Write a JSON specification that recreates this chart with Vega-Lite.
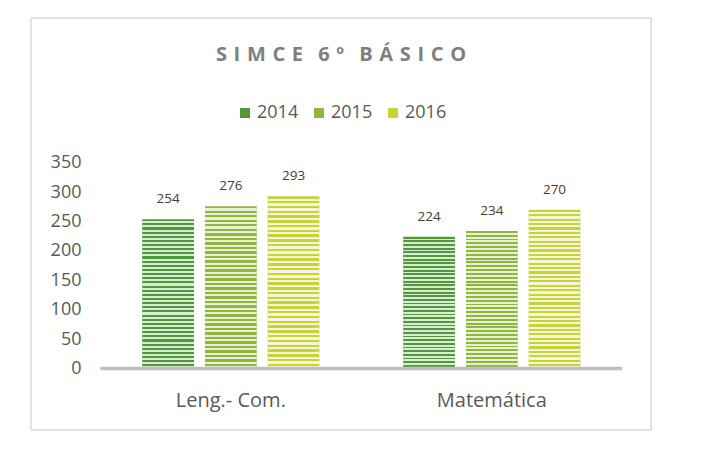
{
  "$schema": "https://vega.github.io/schema/vega-lite/v6.json",
  "width": 620,
  "height": 412,
  "autosize": {"type": "none"},
  "padding": {"left": 31, "top": 18, "right": 61, "bottom": 36},
  "background": "white",
  "config": {
    "view": {"stroke": "#d9d9d9", "strokeWidth": 1.5, "fill": "white"},
    "font": "Open Sans"
  },
  "title": {
    "text": "S\u2004I\u2004M\u2004C\u2004E\u2002 6\u2004º\u2002 B\u2004Á\u2004S\u2004I\u2004C\u2004O",
    "fontSize": 20,
    "fontWeight": "bold",
    "color": "#7f7f7f",
    "anchor": "middle",
    "frame": "group",
    "offset": -47
  },
  "data": {
    "values": [
      {"area": "Leng.- Com.", "year": "2014", "value": 254},
      {"area": "Leng.- Com.", "year": "2015", "value": 276},
      {"area": "Leng.- Com.", "year": "2016", "value": 293},
      {"area": "Matemática", "year": "2014", "value": 224},
      {"area": "Matemática", "year": "2015", "value": 234},
      {"area": "Matemática", "year": "2016", "value": 270}
    ]
  },
  "layer": [
    {
      "mark": {"type": "bar"},
      "encoding": {
        "x": {
          "field": "area",
          "type": "nominal",
          "sort": null,
          "scale": {"paddingInner": 0, "paddingOuter": 0.188, "align": 0.707},
          "axis": {
            "title": null,
            "ticks": false,
            "domain": false,
            "labelAngle": 0,
            "labelFontSize": 20,
            "labelColor": "#595959",
            "labelPadding": 2,
            "offset": -42
          }
        },
        "xOffset": {
          "field": "year",
          "type": "nominal",
          "scale": {"paddingInner": 0.175, "paddingOuter": 0.668}
        },
        "y": {
          "field": "value",
          "type": "quantitative",
          "scale": {"domain": [-104.6, 596.1], "nice": false, "zero": false},
          "axis": {
            "title": null,
            "values": [0, 50, 100, 150, 200, 250, 300, 350],
            "ticks": false,
            "domain": false,
            "grid": false,
            "labelPadding": 2,
            "offset": -52,
            "labelFontSize": 18,
            "labelColor": "#595959"
          }
        },
        "y2": {"datum": 0},
        "color": {
          "field": "year",
          "type": "nominal",
          "scale": {"range": ["#4f9a37", "#8fb73b", "#c6d33a"]},
          "legend": {
            "orient": "none",
            "legendX": 205,
            "legendY": 86,
            "direction": "horizontal",
            "title": null,
            "symbolType": "square",
            "symbolSize": 100,
            "symbolStrokeWidth": 0,
            "labelFontSize": 18,
            "labelColor": "#595959",
            "columnPadding": 11,
            "labelOffset": 3,
            "padding": 0
          }
        }
      }
    },
    {
      "mark": {
        "type": "bar",
        "fill": {
          "gradient": "linear",
          "x1": 0, "y1": 0, "x2": 0, "y2": 1,
          "stops": [
            {"offset": 0, "color": "rgba(255,255,255,0)"},{"offset": 0.0139, "color": "rgba(255,255,255,0)"},{"offset": 0.0139, "color": "rgba(255,255,255,0.8)"},{"offset": 0.0278, "color": "rgba(255,255,255,0.8)"},
            {"offset": 0.0278, "color": "rgba(255,255,255,0)"},{"offset": 0.0417, "color": "rgba(255,255,255,0)"},{"offset": 0.0417, "color": "rgba(255,255,255,0.8)"},{"offset": 0.0556, "color": "rgba(255,255,255,0.8)"},
            {"offset": 0.0556, "color": "rgba(255,255,255,0)"},{"offset": 0.0694, "color": "rgba(255,255,255,0)"},{"offset": 0.0694, "color": "rgba(255,255,255,0.8)"},{"offset": 0.0833, "color": "rgba(255,255,255,0.8)"},
            {"offset": 0.0833, "color": "rgba(255,255,255,0)"},{"offset": 0.0972, "color": "rgba(255,255,255,0)"},{"offset": 0.0972, "color": "rgba(255,255,255,0.8)"},{"offset": 0.1111, "color": "rgba(255,255,255,0.8)"},
            {"offset": 0.1111, "color": "rgba(255,255,255,0)"},{"offset": 0.125, "color": "rgba(255,255,255,0)"},{"offset": 0.125, "color": "rgba(255,255,255,0.8)"},{"offset": 0.1389, "color": "rgba(255,255,255,0.8)"},
            {"offset": 0.1389, "color": "rgba(255,255,255,0)"},{"offset": 0.1528, "color": "rgba(255,255,255,0)"},{"offset": 0.1528, "color": "rgba(255,255,255,0.8)"},{"offset": 0.1667, "color": "rgba(255,255,255,0.8)"},
            {"offset": 0.1667, "color": "rgba(255,255,255,0)"},{"offset": 0.1806, "color": "rgba(255,255,255,0)"},{"offset": 0.1806, "color": "rgba(255,255,255,0.8)"},{"offset": 0.1944, "color": "rgba(255,255,255,0.8)"},
            {"offset": 0.1944, "color": "rgba(255,255,255,0)"},{"offset": 0.2083, "color": "rgba(255,255,255,0)"},{"offset": 0.2083, "color": "rgba(255,255,255,0.8)"},{"offset": 0.2222, "color": "rgba(255,255,255,0.8)"},
            {"offset": 0.2222, "color": "rgba(255,255,255,0)"},{"offset": 0.2361, "color": "rgba(255,255,255,0)"},{"offset": 0.2361, "color": "rgba(255,255,255,0.8)"},{"offset": 0.25, "color": "rgba(255,255,255,0.8)"},
            {"offset": 0.25, "color": "rgba(255,255,255,0)"},{"offset": 0.2639, "color": "rgba(255,255,255,0)"},{"offset": 0.2639, "color": "rgba(255,255,255,0.8)"},{"offset": 0.2778, "color": "rgba(255,255,255,0.8)"},
            {"offset": 0.2778, "color": "rgba(255,255,255,0)"},{"offset": 0.2917, "color": "rgba(255,255,255,0)"},{"offset": 0.2917, "color": "rgba(255,255,255,0.8)"},{"offset": 0.3056, "color": "rgba(255,255,255,0.8)"},
            {"offset": 0.3056, "color": "rgba(255,255,255,0)"},{"offset": 0.3194, "color": "rgba(255,255,255,0)"},{"offset": 0.3194, "color": "rgba(255,255,255,0.8)"},{"offset": 0.3333, "color": "rgba(255,255,255,0.8)"},
            {"offset": 0.3333, "color": "rgba(255,255,255,0)"},{"offset": 0.3472, "color": "rgba(255,255,255,0)"},{"offset": 0.3472, "color": "rgba(255,255,255,0.8)"},{"offset": 0.3611, "color": "rgba(255,255,255,0.8)"},
            {"offset": 0.3611, "color": "rgba(255,255,255,0)"},{"offset": 0.375, "color": "rgba(255,255,255,0)"},{"offset": 0.375, "color": "rgba(255,255,255,0.8)"},{"offset": 0.3889, "color": "rgba(255,255,255,0.8)"},
            {"offset": 0.3889, "color": "rgba(255,255,255,0)"},{"offset": 0.4028, "color": "rgba(255,255,255,0)"},{"offset": 0.4028, "color": "rgba(255,255,255,0.8)"},{"offset": 0.4167, "color": "rgba(255,255,255,0.8)"},
            {"offset": 0.4167, "color": "rgba(255,255,255,0)"},{"offset": 0.4306, "color": "rgba(255,255,255,0)"},{"offset": 0.4306, "color": "rgba(255,255,255,0.8)"},{"offset": 0.4444, "color": "rgba(255,255,255,0.8)"},
            {"offset": 0.4444, "color": "rgba(255,255,255,0)"},{"offset": 0.4583, "color": "rgba(255,255,255,0)"},{"offset": 0.4583, "color": "rgba(255,255,255,0.8)"},{"offset": 0.4722, "color": "rgba(255,255,255,0.8)"},
            {"offset": 0.4722, "color": "rgba(255,255,255,0)"},{"offset": 0.4861, "color": "rgba(255,255,255,0)"},{"offset": 0.4861, "color": "rgba(255,255,255,0.8)"},{"offset": 0.5, "color": "rgba(255,255,255,0.8)"},
            {"offset": 0.5, "color": "rgba(255,255,255,0)"},{"offset": 0.5139, "color": "rgba(255,255,255,0)"},{"offset": 0.5139, "color": "rgba(255,255,255,0.8)"},{"offset": 0.5278, "color": "rgba(255,255,255,0.8)"},
            {"offset": 0.5278, "color": "rgba(255,255,255,0)"},{"offset": 0.5417, "color": "rgba(255,255,255,0)"},{"offset": 0.5417, "color": "rgba(255,255,255,0.8)"},{"offset": 0.5556, "color": "rgba(255,255,255,0.8)"},
            {"offset": 0.5556, "color": "rgba(255,255,255,0)"},{"offset": 0.5694, "color": "rgba(255,255,255,0)"},{"offset": 0.5694, "color": "rgba(255,255,255,0.8)"},{"offset": 0.5833, "color": "rgba(255,255,255,0.8)"},
            {"offset": 0.5833, "color": "rgba(255,255,255,0)"},{"offset": 0.5972, "color": "rgba(255,255,255,0)"},{"offset": 0.5972, "color": "rgba(255,255,255,0.8)"},{"offset": 0.6111, "color": "rgba(255,255,255,0.8)"},
            {"offset": 0.6111, "color": "rgba(255,255,255,0)"},{"offset": 0.625, "color": "rgba(255,255,255,0)"},{"offset": 0.625, "color": "rgba(255,255,255,0.8)"},{"offset": 0.6389, "color": "rgba(255,255,255,0.8)"},
            {"offset": 0.6389, "color": "rgba(255,255,255,0)"},{"offset": 0.6528, "color": "rgba(255,255,255,0)"},{"offset": 0.6528, "color": "rgba(255,255,255,0.8)"},{"offset": 0.6667, "color": "rgba(255,255,255,0.8)"},
            {"offset": 0.6667, "color": "rgba(255,255,255,0)"},{"offset": 0.6806, "color": "rgba(255,255,255,0)"},{"offset": 0.6806, "color": "rgba(255,255,255,0.8)"},{"offset": 0.6944, "color": "rgba(255,255,255,0.8)"},
            {"offset": 0.6944, "color": "rgba(255,255,255,0)"},{"offset": 0.7083, "color": "rgba(255,255,255,0)"},{"offset": 0.7083, "color": "rgba(255,255,255,0.8)"},{"offset": 0.7222, "color": "rgba(255,255,255,0.8)"},
            {"offset": 0.7222, "color": "rgba(255,255,255,0)"},{"offset": 0.7361, "color": "rgba(255,255,255,0)"},{"offset": 0.7361, "color": "rgba(255,255,255,0.8)"},{"offset": 0.75, "color": "rgba(255,255,255,0.8)"},
            {"offset": 0.75, "color": "rgba(255,255,255,0)"},{"offset": 0.7639, "color": "rgba(255,255,255,0)"},{"offset": 0.7639, "color": "rgba(255,255,255,0.8)"},{"offset": 0.7778, "color": "rgba(255,255,255,0.8)"},
            {"offset": 0.7778, "color": "rgba(255,255,255,0)"},{"offset": 0.7917, "color": "rgba(255,255,255,0)"},{"offset": 0.7917, "color": "rgba(255,255,255,0.8)"},{"offset": 0.8056, "color": "rgba(255,255,255,0.8)"},
            {"offset": 0.8056, "color": "rgba(255,255,255,0)"},{"offset": 0.8194, "color": "rgba(255,255,255,0)"},{"offset": 0.8194, "color": "rgba(255,255,255,0.8)"},{"offset": 0.8333, "color": "rgba(255,255,255,0.8)"},
            {"offset": 0.8333, "color": "rgba(255,255,255,0)"},{"offset": 0.8472, "color": "rgba(255,255,255,0)"},{"offset": 0.8472, "color": "rgba(255,255,255,0.8)"},{"offset": 0.8611, "color": "rgba(255,255,255,0.8)"},
            {"offset": 0.8611, "color": "rgba(255,255,255,0)"},{"offset": 0.875, "color": "rgba(255,255,255,0)"},{"offset": 0.875, "color": "rgba(255,255,255,0.8)"},{"offset": 0.8889, "color": "rgba(255,255,255,0.8)"},
            {"offset": 0.8889, "color": "rgba(255,255,255,0)"},{"offset": 0.9028, "color": "rgba(255,255,255,0)"},{"offset": 0.9028, "color": "rgba(255,255,255,0.8)"},{"offset": 0.9167, "color": "rgba(255,255,255,0.8)"},
            {"offset": 0.9167, "color": "rgba(255,255,255,0)"},{"offset": 0.9306, "color": "rgba(255,255,255,0)"},{"offset": 0.9306, "color": "rgba(255,255,255,0.8)"},{"offset": 0.9444, "color": "rgba(255,255,255,0.8)"},
            {"offset": 0.9444, "color": "rgba(255,255,255,0)"},{"offset": 0.9583, "color": "rgba(255,255,255,0)"},{"offset": 0.9583, "color": "rgba(255,255,255,0.8)"},{"offset": 0.9722, "color": "rgba(255,255,255,0.8)"},
            {"offset": 0.9722, "color": "rgba(255,255,255,0)"},{"offset": 0.9861, "color": "rgba(255,255,255,0)"},{"offset": 0.9861, "color": "rgba(255,255,255,0.8)"},{"offset": 1, "color": "rgba(255,255,255,0.8)"}
          ]
        }
      },
      "encoding": {
        "x": {"field": "area", "type": "nominal", "sort": null},
        "xOffset": {"field": "year", "type": "nominal"},
        "y": {"field": "value", "type": "quantitative"},
        "y2": {"datum": 0}
      }
    },
    {
      "data": {"values": [{}]},
      "mark": {"type": "rule", "color": "#bfbfbf", "strokeWidth": 3.5},
      "encoding": {
        "x": {"datum": "Leng.- Com.", "bandPosition": 0},
        "x2": {"datum": "Matemática", "bandPosition": 1},
        "y": {"datum": 0}
      }
    },
    {
      "mark": {"type": "text", "dy": -20, "fontSize": 13.5, "color": "#404040", "baseline": "middle"},
      "encoding": {
        "x": {"field": "area", "type": "nominal", "sort": null},
        "xOffset": {"field": "year", "type": "nominal"},
        "y": {"field": "value", "type": "quantitative"},
        "text": {"field": "value", "type": "quantitative"}
      }
    }
  ]
}
